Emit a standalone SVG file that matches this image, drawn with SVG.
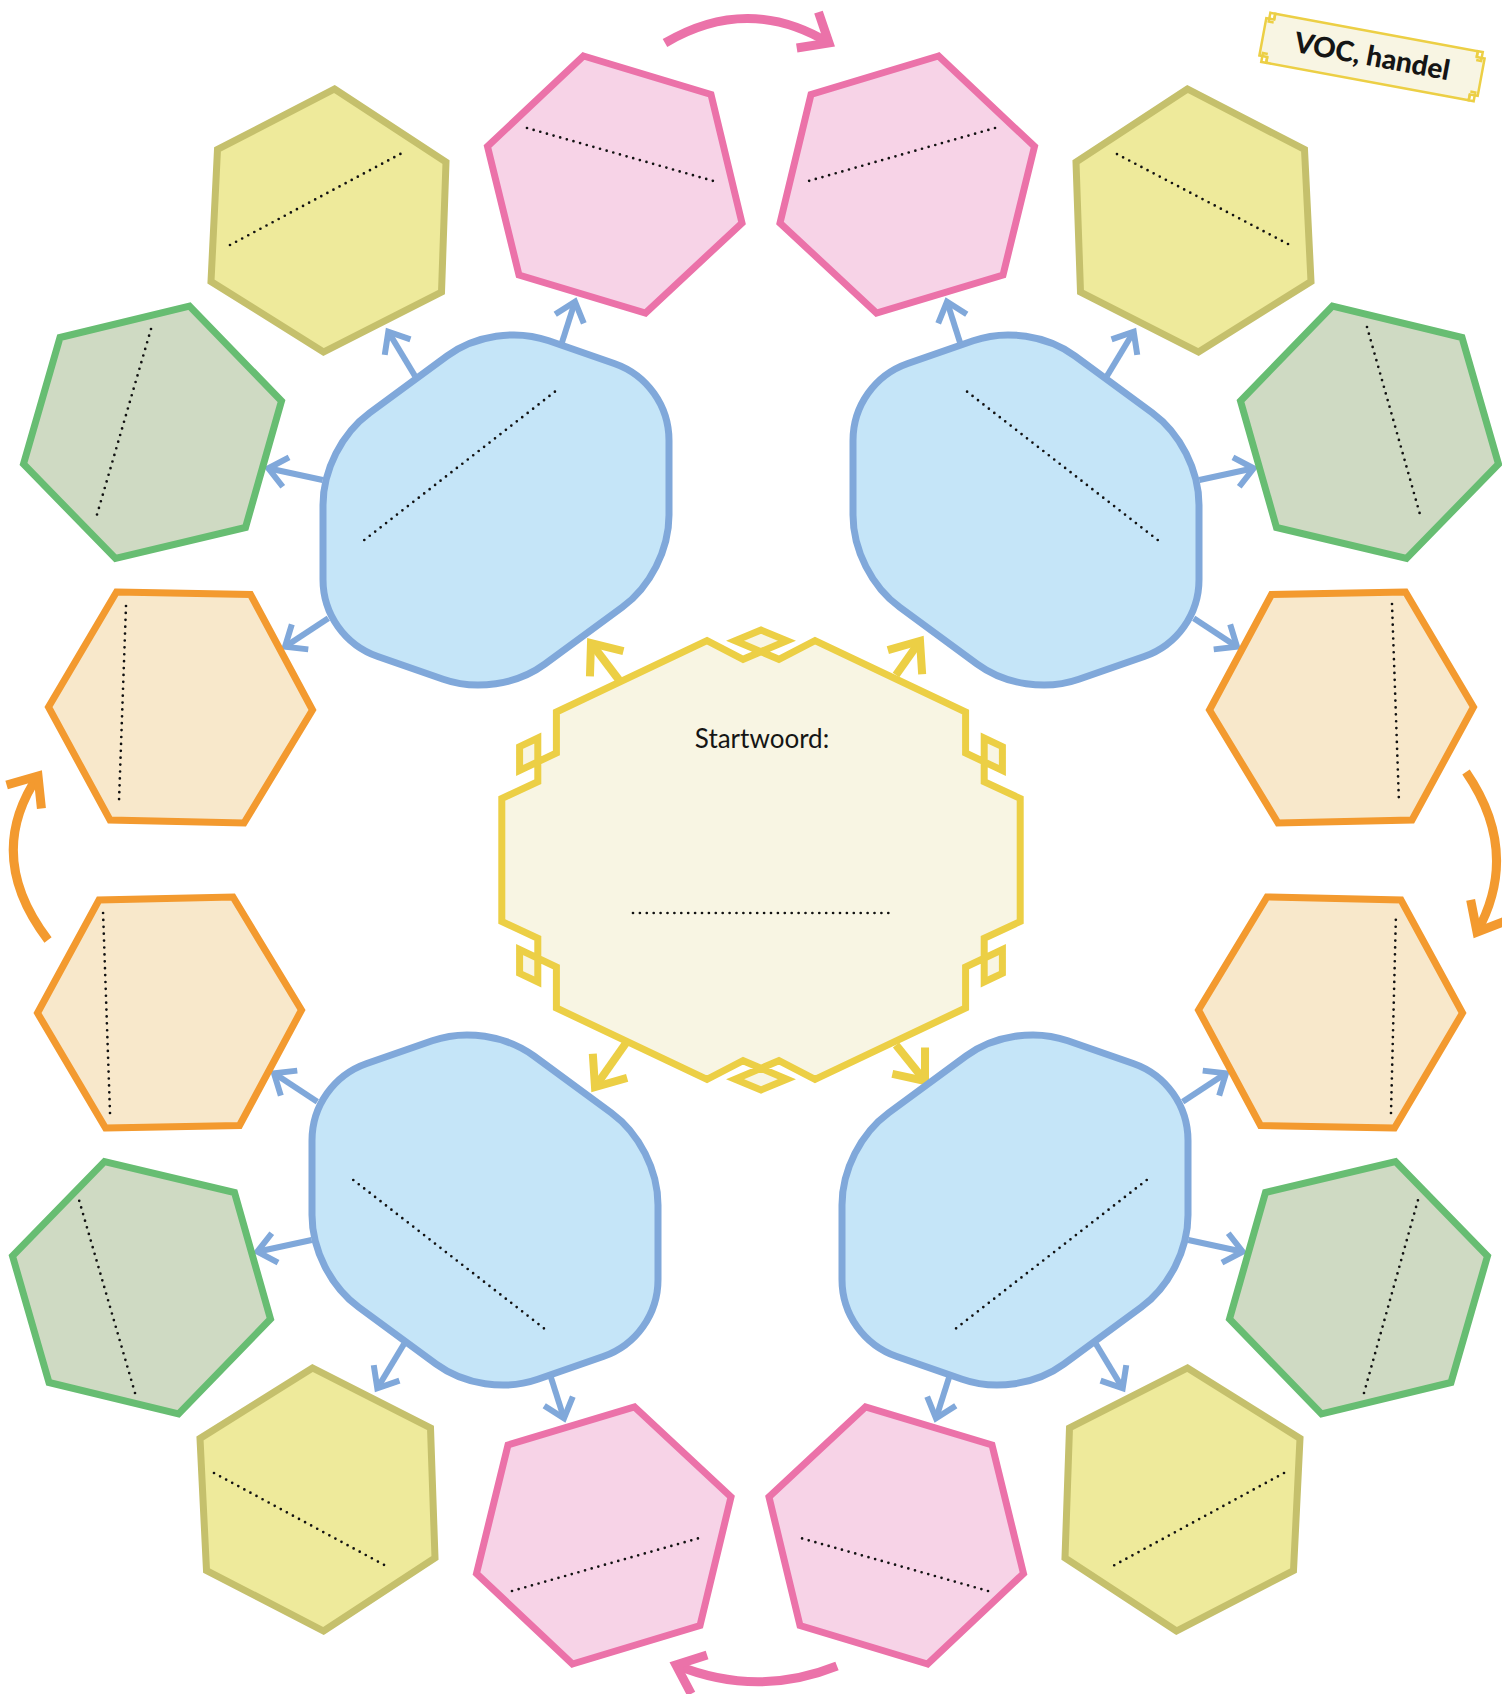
<svg xmlns="http://www.w3.org/2000/svg" width="1502" height="1694" viewBox="0 0 1502 1694">
<style>
.hex{stroke-width:7;stroke-linejoin:miter}
.pink{fill:#f7d3e7;stroke:#eb72a9}
.yel{fill:#eeea9b;stroke:#c5c06c}
.grn{fill:#cfdac3;stroke:#67bd72}
.org{fill:#f8e8cb;stroke:#f39a2f}
.blue{fill:#c5e5f8;stroke:#80a8da;stroke-width:7}
.dots{fill:none;stroke:#111;stroke-width:2.7;stroke-dasharray:0 6.9;stroke-linecap:round}
.center{fill:#f8f5e3;stroke:#eccf45;stroke-width:7;stroke-linejoin:miter}
.ba{fill:none;stroke:#80a8da;stroke-width:6;marker-end:url(#hb)}
.ya{fill:none;stroke:#eccf45;stroke-width:8;marker-end:url(#hy)}
.pa{fill:none;stroke:#eb72a9;stroke-width:9;marker-end:url(#hp)}
.oa{fill:none;stroke:#f39a2f;stroke-width:9;marker-end:url(#ho)}
.lbl{font-family:Lato,"Liberation Sans",sans-serif;fill:#151515}
</style>
<defs>
<marker id="hb" markerUnits="userSpaceOnUse" orient="auto" overflow="visible" markerWidth="1" markerHeight="1"><path d="M-18,-15 L0,0 L-18,15" fill="none" stroke="#80a8da" stroke-width="6"/></marker>
<marker id="hy" markerUnits="userSpaceOnUse" orient="auto" overflow="visible" markerWidth="1" markerHeight="1"><path d="M-26,-21 L0,0 L-26,21" fill="none" stroke="#eccf45" stroke-width="8"/></marker>
<marker id="hp" markerUnits="userSpaceOnUse" orient="auto" overflow="visible" markerWidth="1" markerHeight="1"><path d="M-25,-21 L0,0 L-25,21" fill="none" stroke="#eb72a9" stroke-width="9"/></marker>
<marker id="ho" markerUnits="userSpaceOnUse" orient="auto" overflow="visible" markerWidth="1" markerHeight="1"><path d="M-25,-21 L0,0 L-25,21" fill="none" stroke="#f39a2f" stroke-width="9"/></marker>
<path id="blueShape" d="M -173,-5 C -173,-39.8 -154.3,-76.7 -126.2,-97.3 L -48.8,-154.1 C -20.7,-174.7 19.9,-180.8 52.8,-169.3 L 118.2,-146.5 C 151.1,-135 173,-104.2 173,-69.4 L 173,5 C 173,39.8 154.3,76.7 126.2,97.3 L 48.8,154.1 C 20.7,174.7 -19.9,180.8 -52.8,169.3 L -118.2,146.5 C -151.1,135 -173,104.2 -173,69.4 Z"/>
</defs>
<rect width="1502" height="1694" fill="#ffffff"/>

<g id="connectors">
  <g id="blue-arrows-tl" transform="translate(496,510)">
    <path class="ba" d="M -81,-134 L -107.7,-178.3"/>
    <path class="ba" d="M 65.7,-166.7 L 79,-208.3"/>
    <path class="ba" d="M -173.3,-30 L -227.7,-41.7"/>
    <path class="ba" d="M -167.7,108.3 L -211,136.7"/>
  </g>
  <g id="blue-arrows-tr" transform="matrix(-1 0 0 1 1026 510)">
    <path class="ba" d="M -81,-134 L -107.7,-178.3"/>
    <path class="ba" d="M 65.7,-166.7 L 79,-208.3"/>
    <path class="ba" d="M -173.3,-30 L -227.7,-41.7"/>
    <path class="ba" d="M -167.7,108.3 L -211,136.7"/>
  </g>
  <g id="blue-arrows-bl" transform="matrix(1 0 0 -1 485 1210)">
    <path class="ba" d="M -81,-134 L -107.7,-178.3"/>
    <path class="ba" d="M 65.7,-166.7 L 79,-208.3"/>
    <path class="ba" d="M -173.3,-30 L -227.7,-41.7"/>
    <path class="ba" d="M -167.7,108.3 L -211,136.7"/>
  </g>
  <g id="blue-arrows-br" transform="matrix(-1 0 0 -1 1015 1210)">
    <path class="ba" d="M -81,-134 L -107.7,-178.3"/>
    <path class="ba" d="M 65.7,-166.7 L 79,-208.3"/>
    <path class="ba" d="M -173.3,-30 L -227.7,-41.7"/>
    <path class="ba" d="M -167.7,108.3 L -211,136.7"/>
  </g>
  <g id="yellow-arrows">
    <path class="ya" d="M 619,680 L 591,643"/>
    <path class="ya" d="M 896,675 L 920,641"/>
    <path class="ya" d="M 626,1043 L 595,1087"/>
    <path class="ya" d="M 896,1045 L 925,1081"/>
  </g>
  <g id="cycle-arrows">
    <path class="pa" d="M 665,43 Q 748,-6 829,43"/>
    <path class="pa" d="M 837,1666 Q 757,1698 676,1665"/>
    <path class="oa" d="M 48,940 Q -16,856 38,776"/>
    <path class="oa" d="M 1466,772 Q 1521,852 1477,932"/>
  </g>
</g>

<g id="center-node" transform="translate(761,860)">
  <path class="center" d="M -54,-219.3 L -17.9,-200.7 L 25.9,-219.3 L 0,-230 L -25.9,-219.3 L 17.9,-200.7 L 54,-219.3 L 204.6,-148 L 204.6,-107 L 241.4,-89.5 L 241.4,-113.3 L 223.2,-122 L 223.2,-78.3 L 259.2,-61.5 L 259.2,61.5 L 223.2,78.3 L 223.2,122 L 241.4,113.3 L 241.4,89.5 L 204.6,107 L 204.6,148 L 54,219.3 L 17.9,200.7 L -25.9,219.3 L 0,230 L 25.9,219.3 L -17.9,200.7 L -54,219.3 L -204.6,148 L -204.6,107 L -241.4,89.5 L -241.4,113.3 L -223.2,122 L -223.2,78.3 L -259.2,61.5 L -259.2,-61.5 L -223.2,-78.3 L -223.2,-122 L -241.4,-113.3 L -241.4,-89.5 L -204.6,-107 L -204.6,-148 Z"/>
  <text class="lbl" x="1" y="-112" text-anchor="middle" font-size="26">Startwoord:</text>
  <line class="dots" x1="-128" y1="53" x2="131" y2="53"/>
</g>

<g id="blue-tl" transform="translate(496,510)"><use href="#blueShape" class="blue"/><line class="dots" x1="-131.7" y1="30" x2="62" y2="-120.7"/></g>
<g id="blue-tr" transform="matrix(-1 0 0 1 1026 510)"><use href="#blueShape" class="blue"/><line class="dots" x1="-131.7" y1="30" x2="62" y2="-120.7"/></g>
<g id="blue-bl" transform="matrix(1 0 0 -1 485 1210)"><use href="#blueShape" class="blue"/><line class="dots" x1="-131.7" y1="30" x2="62" y2="-120.7"/></g>
<g id="blue-br" transform="matrix(-1 0 0 -1 1015 1210)"><use href="#blueShape" class="blue"/><line class="dots" x1="-131.7" y1="30" x2="62" y2="-120.7"/></g>

<g id="pink-tl"><polygon class="hex pink" points="583.5,56 711,94.5 742,223 645.5,313 519,275 487.5,146.5"/><line class="dots" x1="527" y1="128" x2="717" y2="182"/></g>
<g id="pink-tr" transform="matrix(-1 0 0 1 1522 0)"><polygon class="hex pink" points="583.5,56 711,94.5 742,223 645.5,313 519,275 487.5,146.5"/><line class="dots" x1="527" y1="128" x2="717" y2="182"/></g>
<g id="pink-bl" transform="matrix(1 0 0 -1 -11 1720)"><polygon class="hex pink" points="583.5,56 711,94.5 742,223 645.5,313 519,275 487.5,146.5"/><line class="dots" x1="523" y1="129" x2="714" y2="183"/></g>
<g id="pink-br" transform="matrix(-1 0 0 -1 1511 1720)"><polygon class="hex pink" points="583.5,56 711,94.5 742,223 645.5,313 519,275 487.5,146.5"/><line class="dots" x1="523" y1="129" x2="714" y2="183"/></g>

<g id="yellow-tl"><polygon class="hex yel" points="334.5,89 446,162 441.5,292 323.5,352 211,281.5 217.5,149.5"/><line class="dots" x1="230" y1="245" x2="404" y2="152"/></g>
<g id="yellow-tr" transform="matrix(-1 0 0 1 1522 0)"><polygon class="hex yel" points="334.5,89 446,162 441.5,292 323.5,352 211,281.5 217.5,149.5"/><line class="dots" x1="234" y1="244" x2="409" y2="152"/></g>
<g id="yellow-bl" transform="matrix(1 0 0 -1 -11 1720)"><polygon class="hex yel" points="334.5,89 446,162 441.5,292 323.5,352 211,281.5 217.5,149.5"/><line class="dots" x1="225" y1="247" x2="399" y2="153"/></g>
<g id="yellow-br" transform="matrix(-1 0 0 -1 1511 1720)"><polygon class="hex yel" points="334.5,89 446,162 441.5,292 323.5,352 211,281.5 217.5,149.5"/><line class="dots" x1="227" y1="247" x2="400" y2="153"/></g>

<g id="green-tl"><polygon class="hex grn" points="60,337.5 189.5,306 281.5,401 245.5,527.5 115.5,558.5 23.5,464"/><line class="dots" x1="151" y1="329" x2="96" y2="518"/></g>
<g id="green-tr" transform="matrix(-1 0 0 1 1522 0)"><polygon class="hex grn" points="60,337.5 189.5,306 281.5,401 245.5,527.5 115.5,558.5 23.5,464"/><line class="dots" x1="155" y1="327" x2="101" y2="518"/></g>
<g id="green-bl" transform="matrix(1 0 0 -1 -11 1720)"><polygon class="hex grn" points="60,337.5 189.5,306 281.5,401 245.5,527.5 115.5,558.5 23.5,464"/><line class="dots" x1="146" y1="327" x2="90" y2="520"/></g>
<g id="green-br" transform="matrix(-1 0 0 -1 1511 1720)"><polygon class="hex grn" points="60,337.5 189.5,306 281.5,401 245.5,527.5 115.5,558.5 23.5,464"/><line class="dots" x1="147" y1="327" x2="93" y2="520"/></g>

<g id="orange-tl"><polygon class="hex org" points="116.5,592 250.5,594.5 312.5,710 244,823 110,820 48.5,707"/><line class="dots" x1="126" y1="606" x2="119" y2="801"/></g>
<g id="orange-tr" transform="matrix(-1 0 0 1 1522 0)"><polygon class="hex org" points="116.5,592 250.5,594.5 312.5,710 244,823 110,820 48.5,707"/><line class="dots" x1="130" y1="604" x2="123" y2="803"/></g>
<g id="orange-bl" transform="matrix(1 0 0 -1 -11 1720)"><polygon class="hex org" points="116.5,592 250.5,594.5 312.5,710 244,823 110,820 48.5,707"/><line class="dots" x1="121" y1="607" x2="114" y2="809"/></g>
<g id="orange-br" transform="matrix(-1 0 0 -1 1511 1720)"><polygon class="hex org" points="116.5,592 250.5,594.5 312.5,710 244,823 110,820 48.5,707"/><line class="dots" x1="120" y1="607" x2="115" y2="807"/></g>

<g id="title-banner" transform="translate(1372,57) rotate(10.5)">
  <path d="M -103,-25 H 103 V -19 H 111 V 19 H 103 V 25 H -103 V 19 H -111 V -19 H -103 Z" fill="#f8f5e3" stroke="#eccf45" stroke-width="2.5"/>
  <path d="M 103,-19 v -6 h 5 v 9 h -5 M -103,-19 v -6 h -5 v 9 h 5 M 103,19 v 6 h 5 v -9 h -5 M -103,19 v 6 h -5 v -9 h 5" fill="none" stroke="#eccf45" stroke-width="2.5"/>
  <text class="lbl" x="0" y="9" text-anchor="middle" font-size="28" font-weight="900">VOC, handel</text>
</g>
</svg>
